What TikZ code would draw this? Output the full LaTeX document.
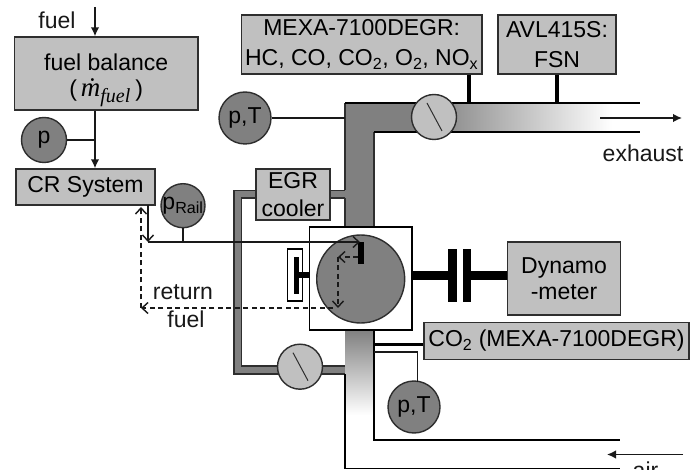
\documentclass[tikz,border=0pt]{standalone}
\usepackage{fontspec}
\setmainfont{Liberation Sans}
\newfontfamily\serifit[Ligatures=TeX]{Liberation Serif}
\definecolor{boxg}{HTML}{C0C0C0}
\definecolor{pipeg}{HTML}{808080}
\definecolor{edgeg}{HTML}{2E2E2E}
\usetikzlibrary{arrows.meta}
\tikzset{
  x=1pt,y=-1pt,
  lab/.style={font=\fontsize{23}{25}\selectfont,text=black!90,inner sep=0pt,align=center},
  gbox/.style={draw=edgeg,line width=1.4pt,fill=boxg,inner sep=0pt,align=center,font=\fontsize{23}{26}\selectfont},
  sensor/.style={circle,draw=edgeg,line width=1.4pt,fill=pipeg,inner sep=0pt,font=\fontsize{23}{25}\selectfont},
  valve/.style={circle,draw=edgeg,line width=1.4pt,fill=boxg,inner sep=0pt,minimum size=45pt},
  thin line/.style={draw=black!90,line width=1.5pt},
  thick line/.style={draw=black,line width=3.5pt},
  solidtip/.style={-{Latex[length=9pt,width=8.5pt]},draw=black!90,line width=1.5pt},
  opentip/.style={-{Straight Barb[length=6pt,width=11pt]},draw=black!90,line width=1.4pt},
  dashline/.style={-{Straight Barb[length=6pt,width=11pt]},draw=black!90,line width=1.4pt,dash pattern=on 5pt off 3.5pt},
}
\begin{document}
\begin{tikzpicture}
\useasboundingbox[fill=white] (0,0) rectangle (699,470);
\clip (0,0) rectangle (699,470);
% coordinates
\coordinate (fueltop) at (95,7);
\coordinate (railjoin) at (148,242);
\coordinate (railv) at (148,205);
\coordinate (injin) at (360,242);
\coordinate (d1) at (358,257);
\coordinate (d2) at (338,257);
\coordinate (d3) at (338,308);
\coordinate (d4) at (333,308);
\coordinate (d5) at (141,308);
\coordinate (d6) at (141,207);
\coordinate (exA) at (600,118);
\coordinate (exB) at (682,118);
\coordinate (airA) at (683,454.5);
\coordinate (airB) at (607,454.5);
% EGR loop
\fill[pipeg] (234,190.5) rectangle (345,198);
\fill[pipeg] (234,190.5) rectangle (241.5,374);
\fill[pipeg] (234,366) rectangle (345,374);
\draw[edgeg,line width=1.4pt] (345,190.5) -- (234,190.5) -- (234,374) -- (345,374);
\draw[edgeg,line width=1.4pt] (345,198) -- (241.5,198) -- (241.5,366) -- (345,366);
% exhaust pipe
\fill[pipeg] (345,103) rectangle (374,228);
\fill[pipeg] (345,103) rectangle (426,132);
\shade[left color=pipeg,right color=white] (426,103) rectangle (612,132);
\draw[edgeg,line width=1.5pt] (345,190.5) -- (345,103);
\draw[edgeg,line width=1.5pt] (345,198) -- (345,228);
\draw[black,line width=1.5pt] (345,103) -- (640,103);
\draw[edgeg,line width=1.5pt] (374,228) -- (374,132);
\draw[black,line width=1.5pt] (374,132) -- (640,132);
% intake pipe
\shade[top color=pipeg,bottom color=white] (345,330) rectangle (374,415);
\draw[black,line width=1.5pt] (345,374) -- (345,468.5) -- (620,468.5);
\draw[black,line width=1.5pt] (374,330) -- (374,440) -- (620,440);
% engine
\node[draw=black,line width=1.4pt,fill=white,minimum width=102.5pt,minimum height=103pt,inner sep=0pt] (engbox) at (360.75,278.5) {};
\node[circle,draw=edgeg,line width=1.4pt,fill=pipeg,minimum size=88pt,inner sep=0pt] (cyl) at (360.7,279) {};
\node[fill=black,minimum width=6.5pt,minimum height=22.5pt,inner sep=0pt] (inj) at (360.8,253) {};
% piston
\node[draw=black,line width=1.4pt,fill=white,minimum width=15.5pt,minimum height=52pt,inner sep=0pt] (pist) at (295,275) {};
\fill[black] (294,256.7) rectangle (298.7,294);
\fill[black] (298,271.7) rectangle (309.5,278.3);
% shaft
\node[fill=black,minimum width=8.5pt,minimum height=52.5pt,inner sep=0pt] (c1) at (452.3,275.5) {};
\node[fill=black,minimum width=8.5pt,minimum height=52.5pt,inner sep=0pt] (c2) at (467.2,275.5) {};
\draw[black,line width=8.5pt] (412,275.5) -- (c1.center);
\draw[black,line width=8.5pt] (c2.center) -- (507.5,275.5);
% boxes
\node[gbox,minimum width=183.5pt,minimum height=73pt] (fb) at (106.2,73.5) {};
\node[lab,text=black] (fbt) at (106.2,80.5) {fuel balance\\[1pt]({\,\serifit\itshape\fontsize{27}{27}\selectfont \.{m}\textsubscript{\fontsize{20}{20}\selectfont fuel}\,})};
\node[gbox,minimum width=139pt,minimum height=36pt] (cr) at (85.5,187) {CR System};
\node[gbox,minimum width=240.5pt,minimum height=59pt,font=\fontsize{23}{30}\selectfont] (mexa) at (361.7,44.5) {MEXA-7100DEGR:\\HC, CO, CO\textsubscript{2}, O\textsubscript{2}, NO\textsubscript{x}};
\node[gbox,minimum width=118pt,minimum height=59pt,font=\fontsize{23}{30}\selectfont] (avl) at (557,44.5) {AVL415S:\\FSN};
\node[gbox,minimum width=74pt,minimum height=51pt,font=\fontsize{23}{28}\selectfont] (egr) at (293,194.5) {EGR\\cooler};
\node[gbox,minimum width=113pt,minimum height=73pt] (dyn) at (564,278.5) {Dynamo\\-meter};
\node[gbox,minimum width=265pt,minimum height=36.5pt] (co2) at (556.5,341) {CO\textsubscript{2} (MEXA-7100DEGR)};
% sensors
\node[sensor,minimum size=45pt] (p) at (44,140) {p};
\node[sensor,minimum size=52pt] (pt1) at (245,118) {p,T};
\node[sensor,minimum size=44pt] (prail) at (183,205.7) {};
\node[inner sep=0pt,font=\fontsize{23}{25}\selectfont] (railt) at (prail.center) {p\textsubscript{Rail}};
\node[sensor,minimum size=52pt] (pt2) at (414,407) {p,T};
% valves
\node[valve] (v1) at (434,117) {};
\draw[edgeg,line width=1pt] ([shift={(-7,-14)}]v1.center) -- ([shift={(8,14)}]v1.center);
\node[valve] (v2) at (300,366.7) {};
\draw[edgeg,line width=1pt] ([shift={(-7,-14)}]v2.center) -- ([shift={(8,14)}]v2.center);
% connectors
\draw[solidtip] (fueltop) -- (fb.north -| fueltop);
\draw[solidtip] (fb.south -| fueltop) -- (cr.north -| fueltop);
\draw[thin line] (p.east) -- (p.east -| fueltop);
\draw[thin line] (pt1.east) -- (pt1.east -| 345,0);
\draw[thick line] (mexa.south -| 469,0) -- (469,103);
\draw[thick line] (avl.south -| 557,0) -- (557,103);
\draw[opentip] (railv) -- (railjoin);
\draw[thin line] (prail.south) -- (prail.south |- railjoin);
\draw[opentip] (railjoin) -- (injin);
\draw[dashline] (d1) -- (d2);
\draw[dashline] (d2) -- (d3);
\draw[dashline] (d4) -- (d5);
\draw[dashline] (d5) -- (d6);
\draw[solidtip] (exA) -- (exB);
\draw[solidtip] (airA) -- (airB);
\draw[thick line] (374,344.5) -- (co2.west |- 374,344.5);
\draw[thin line] (374,352) -- (417.5,352) -- (417.5,381.5);
% labels
\node[lab] (tfuel) at (57,20) {fuel};
\node[lab] (texh) at (643,153) {exhaust};
\node[lab] (tret) at (183,292) {return};
\node[lab] (tfuel2) at (186,319) {fuel};
\node[lab] (tair) at (645.5,470) {air};
\end{tikzpicture}
\end{document}
